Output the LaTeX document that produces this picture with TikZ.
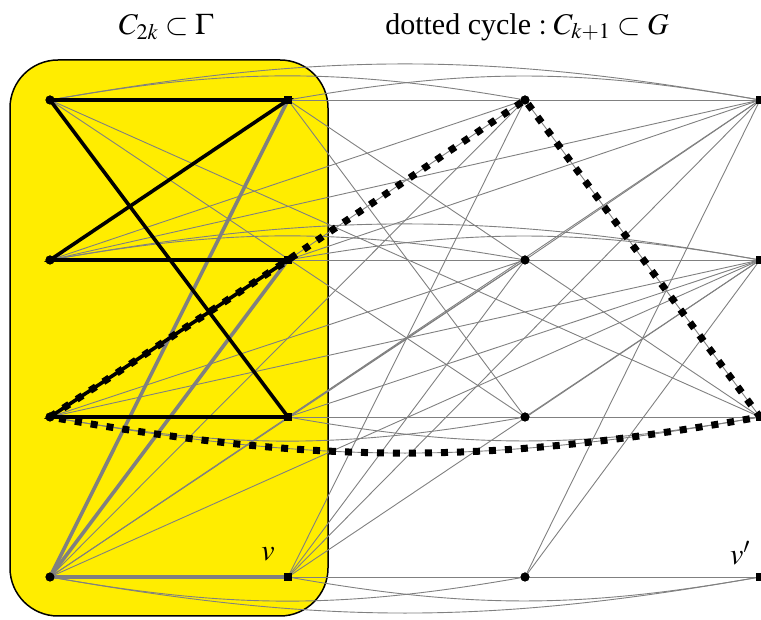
\documentclass[tikz,border=0pt]{standalone}
\usepackage{mathptmx}
\usepackage{fontspec}
\setmainfont{Liberation Serif}
\definecolor{boxyellow}{RGB}{255,237,0}
\definecolor{edgegray}{RGB}{128,128,128}
\begin{document}
\begin{tikzpicture}[x=1pt,y=1pt,
  gedge/.style={draw=edgegray,line width=0.9pt},
  gthick/.style={draw=edgegray,line width=3.6pt},
  bthick/.style={draw=black,line width=3.6pt},
  dotcyc/.style={draw=black,line width=7pt,dash pattern=on 7pt off 9pt},
  circ/.style={circle,fill=black,inner sep=0pt,minimum size=9pt},
  sq/.style={rectangle,fill=black,inner sep=0pt,minimum size=8.5pt},
  lbl/.style={font=\fontsize{30}{33}\selectfont,inner sep=0pt}]
\useasboundingbox (0,0) rectangle (761,620);
\clip (0,0) rectangle (761,620);
% Gamma box
\draw[line width=1.5pt,fill=boxyellow,rounded corners=48pt] (10,4) rectangle (328,560);
% nodes
\foreach \r/\y in {1/520,2/360,3/203,4/43}{
  \node[circ] (A\r) at (50,\y) {};
  \node[sq]   (B\r) at (288,\y) {};
  \node[circ] (C\r) at (525,\y) {};
  \node[sq]   (D\r) at (760,\y) {};
}
% thin edges of G
\foreach \X/\Y in {A/C,A/D,B/C,B/D,C/D}{
  \foreach \i/\j in {1/3,2/1,3/2,4/1,4/2}{
    \draw[gedge] (\X\i.center) -- (\Y\j.center);
  }
}
\foreach \r in {1,2,3,4}{
  \draw[gedge] (B\r.center) -- (C\r.center);
  \draw[gedge] (C\r.center) -- (D\r.center);
}
\foreach \r in {1,2}{
  \draw[gedge] (A\r.center) to[bend left=10] (C\r.center);
  \draw[gedge] (B\r.center) to[bend left=10] (D\r.center);
  \draw[gedge] (A\r.center) to[bend left=10] (D\r.center);
}
\foreach \r in {3,4}{
  \draw[gedge] (A\r.center) to[bend right=10] (C\r.center);
  \draw[gedge] (B\r.center) to[bend right=10] (D\r.center);
  \draw[gedge] (A\r.center) to[bend right=10] (D\r.center);
}
% Gamma edges
\draw[gthick] (A4.center) -- (B1.center);
\draw[gthick] (A4.center) -- (B2.center);
\draw[gthick] (A4.center) -- (B4.center);
\draw[bthick] (A1.center) -- (B1.center) -- (A2.center) -- (B2.center) -- (A3.center) -- (B3.center) -- cycle;
% dotted cycle
\draw[dotcyc] (A3.center) -- (B2.center) -- (C1.center) -- (D3.center) to[bend left=10] (A3.center);
% nodes on top
\foreach \r in {1,2,3,4}{
  \node[circ] at (A\r) {};
  \node[sq] at (B\r) {};
  \node[circ] at (C\r) {};
  \node[sq] at (D\r) {};
}
% labels
\node[lbl] (t1) at (166,593) {$C_{2k}\subset\Gamma$};
\node[lbl] (t2) at (527,593) {dotted cycle $: C_{k+1}\subset G$};
\node[lbl] (lv) at (268,66) {$v$};
\node[lbl] (lvp) at (740,67) {$v'$};
\end{tikzpicture}
\end{document}
